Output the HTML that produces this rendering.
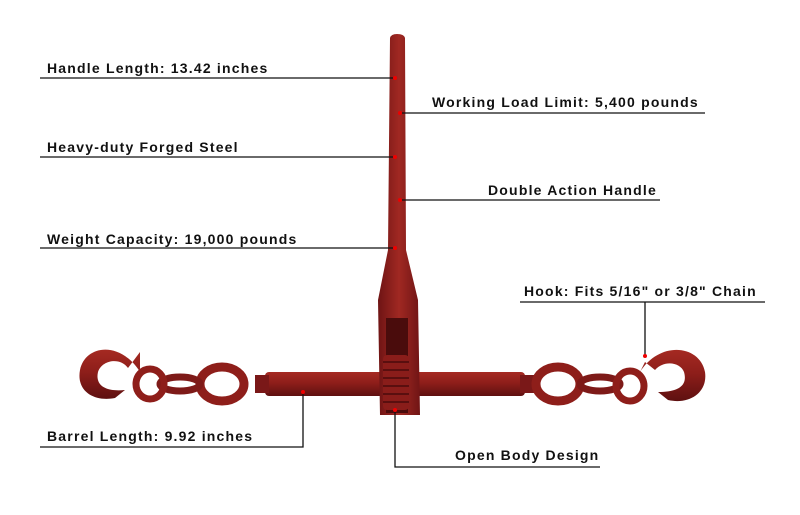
<!DOCTYPE html>
<html><head><meta charset="utf-8"><style>
html,body{margin:0;padding:0;background:#fff;}
body{width:800px;height:515px;position:relative;overflow:hidden;font-family:"Liberation Sans",sans-serif;}
.l{position:absolute;font-size:14px;font-weight:bold;color:#111;letter-spacing:1.2px;white-space:nowrap;}
</style></head><body>
<svg width="800" height="515" style="position:absolute;left:0;top:0">
<defs>
<linearGradient id="g" x1="0" y1="0" x2="0" y2="1"><stop offset="0" stop-color="#a52a22"/><stop offset="0.45" stop-color="#8e1e1a"/><stop offset="1" stop-color="#5e1010"/></linearGradient>
<linearGradient id="gh" x1="0" y1="0" x2="1" y2="0"><stop offset="0" stop-color="#6e1414"/><stop offset="0.5" stop-color="#a02822"/><stop offset="1" stop-color="#701515"/></linearGradient>
</defs>
<rect x="265" y="372" width="260" height="24" rx="4" fill="url(#g)"/>
<rect x="255" y="375" width="14" height="18" fill="#7a1818"/>
<rect x="520" y="375" width="14" height="18" fill="#7a1818"/>
<path d="M390 38 Q391 34 397 34 Q404 34 405 38 L406 250 L418 300 L420 415 L380 415 L378 300 L388 250 Z" fill="url(#gh)"/>
<rect x="386" y="318" width="22" height="95" fill="#4a0c0c"/>
<rect x="383" y="355" width="26" height="55" rx="4" fill="#8a1d1a"/>
<g stroke="#5a0f0f" stroke-width="2"><line x1="383" y1="362" x2="409" y2="362"/><line x1="383" y1="370" x2="409" y2="370"/><line x1="383" y1="378" x2="409" y2="378"/><line x1="383" y1="386" x2="409" y2="386"/><line x1="383" y1="394" x2="409" y2="394"/><line x1="383" y1="402" x2="409" y2="402"/></g>
<ellipse cx="222" cy="384" rx="22" ry="17" fill="none" stroke="#8e1e1a" stroke-width="9"/>
<ellipse cx="180" cy="384" rx="20" ry="7" fill="none" stroke="#7e1a18" stroke-width="7"/>
<ellipse cx="150" cy="384" rx="14" ry="15" fill="none" stroke="#8e1e1a" stroke-width="7"/>
<path d="M140 372 C120 340 85 345 80 370 C76 392 95 402 115 398 L125 390 C105 392 95 385 98 372 C102 360 120 357 128 368 L140 352 Z" fill="url(#g)"/>
<ellipse cx="558" cy="384" rx="22" ry="17" fill="none" stroke="#8e1e1a" stroke-width="9"/>
<ellipse cx="600" cy="384" rx="20" ry="7" fill="none" stroke="#7e1a18" stroke-width="7"/>
<ellipse cx="630" cy="386" rx="14" ry="15" fill="none" stroke="#8e1e1a" stroke-width="7"/>
<path d="M640 372 C660 340 700 345 705 372 C708 392 690 405 668 400 L658 392 C678 392 688 386 684 372 C680 362 664 360 655 370 L645 362 Z" fill="url(#g)"/>
<g stroke="#111" stroke-width="1.3" fill="none">
<line x1="40" y1="78" x2="395" y2="78"/>
<line x1="400" y1="113" x2="705" y2="113"/>
<line x1="40" y1="157" x2="395" y2="157"/>
<line x1="400" y1="200" x2="660" y2="200"/>
<line x1="40" y1="248" x2="395" y2="248"/>
<polyline points="520,302 765,302"/><line x1="645" y1="302" x2="645" y2="356"/>
<polyline points="40,447 303,447 303,392"/>
<polyline points="395,410 395,467 600,467"/>
</g>
<g fill="#e00"><circle cx="395" cy="78" r="2"/><circle cx="400" cy="113" r="2"/><circle cx="395" cy="157" r="2"/><circle cx="400" cy="200" r="2"/><circle cx="395" cy="248" r="2"/><circle cx="645" cy="356" r="2"/><circle cx="303" cy="392" r="2"/><circle cx="395" cy="410" r="2"/></g>
</svg>
<div class="l" style="left:47px;top:60px">Handle Length: 13.42 inches</div>
<div class="l" style="left:432px;top:94px">Working Load Limit: 5,400 pounds</div>
<div class="l" style="left:47px;top:139px">Heavy-duty Forged Steel</div>
<div class="l" style="left:488px;top:182px">Double Action Handle</div>
<div class="l" style="left:47px;top:231px">Weight Capacity: 19,000 pounds</div>
<div class="l" style="left:524px;top:283px">Hook: Fits 5/16" or 3/8" Chain</div>
<div class="l" style="left:47px;top:428px">Barrel Length: 9.92 inches</div>
<div class="l" style="left:455px;top:447px">Open Body Design</div>
</body></html>
